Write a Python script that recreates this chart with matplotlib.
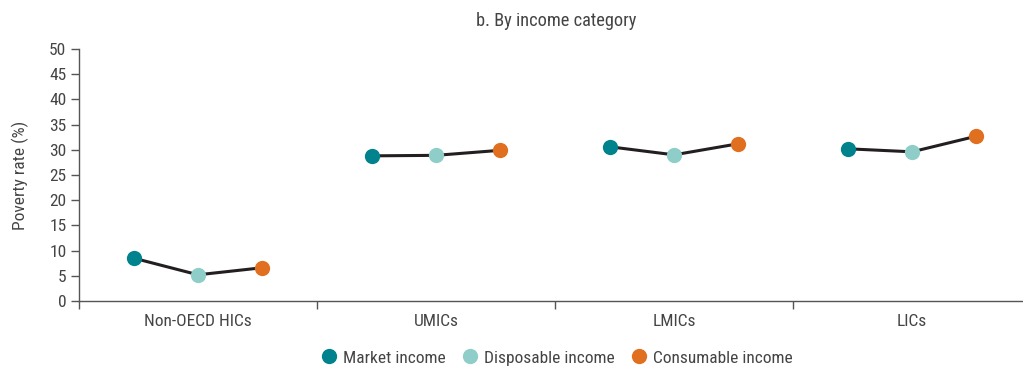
import matplotlib
matplotlib.use("Agg")
import matplotlib.pyplot as plt
from matplotlib.lines import Line2D
import numpy as np

categories = ["Non-OECD HICs", "UMICs", "LMICs", "LICs"]
series = ["Market income", "Disposable income", "Consumable income"]
market = [8.5, 28.8, 30.6, 30.2]
disposable = [5.2, 28.9, 29.0, 29.6]
consumable = [6.6, 29.9, 31.2, 32.7]
colors = ["#00838D", "#8FCDC9", "#E0701F"]
yticks = [0, 5, 10, 15, 20, 25, 30, 35, 40, 45, 50]

plt.rcParams['font.family'] = ['Roboto Condensed', 'Liberation Sans Narrow', 'Roboto', 'DejaVu Sans']
txt = "#444444"
fs = 12.5

fig = plt.figure(figsize=(10.23, 3.67), dpi=100)
ax = fig.add_axes([79/1023, 1-301/367, 944/1023, 252/367])

offsets = [-0.27, 0.0, 0.27]
vals = [market, disposable, consumable]
for i, cat in enumerate(categories):
    xs = [i + o for o in offsets]
    ys = [v[i] for v in vals]
    ax.plot(xs, ys, color="#231f20", lw=2.2, zorder=2)
    for x, y, c in zip(xs, ys, colors):
        ax.plot(x, y, 'o', color=c, ms=11, mec='none', zorder=3)

ax.set_yticks(yticks)
ax.set_xticks([-0.5, 0.5, 1.5, 2.5, 3.5])
ax.set_xticklabels([])
ax.set_xticks(range(len(categories)), minor=True)
ax.set_xticklabels(categories, minor=True)
ax.set_xlim(-0.5, 3.466)
ax.set_ylim(0, 50)
ax.tick_params(axis='x', which='minor', length=0, pad=9, labelsize=fs, labelcolor=txt)
ax.tick_params(axis='x', which='major', length=6, width=1, color="#555555")
ax.tick_params(axis='y', length=6, width=1, color="#555555", labelsize=fs, labelcolor=txt, pad=3)
for s in ['top', 'right']:
    ax.spines[s].set_visible(False)
for s in ['left', 'bottom']:
    ax.spines[s].set_color("#555555")
    ax.spines[s].set_linewidth(1)
ax.set_ylabel("Poverty rate (%)", fontsize=fs, color=txt)
ax.yaxis.set_label_coords(-0.053, 0.5)

fig.text(556/1023, 1-21/367, "b. By income category", ha='center', va='center', fontsize=13.2, color=txt)

handles = [Line2D([], [], ls='none', marker='o', ms=11, color=c, mec='none') for c in colors]
fig.legend(handles, series, loc='center', bbox_to_anchor=(556/1023, 1-358/367), ncol=3,
           frameon=False, fontsize=fs, labelcolor=txt, handletextpad=0.2, columnspacing=0.8,
           handlelength=1.2, borderaxespad=0)

fig.savefig("out.png", dpi=100)
